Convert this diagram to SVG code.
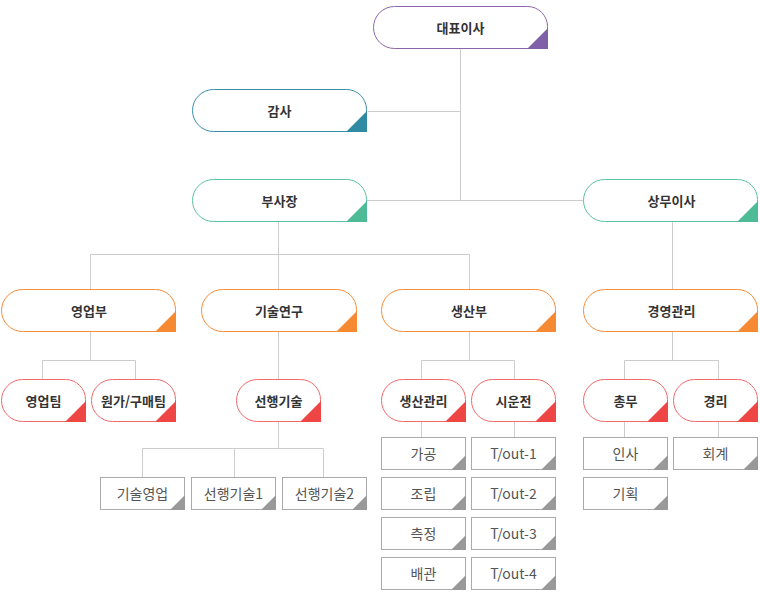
<svg xmlns="http://www.w3.org/2000/svg" xmlns:xlink="http://www.w3.org/1999/xlink" width="760" height="598" viewBox="0 0 760 598">
<style>
  .bg{fill:#ffffff}
  .ln{stroke:#cccccc;stroke-width:1;fill:none}
  .pill{fill:#ffffff;stroke-width:1}
  .t{font-family:"Noto Sans CJK KR","Liberation Sans",sans-serif;font-size:13px;font-weight:bold;fill:#333333;text-anchor:middle}
  .s{font-family:"Noto Sans CJK KR","Liberation Sans",sans-serif;font-size:14px;fill:#555555;text-anchor:middle}
  .box{fill:#ffffff;stroke:#aaaaaa;stroke-width:1}
  .gtri{fill:#999999}
  .purple .pill{stroke:#8c66ac} .purple .tri{fill:#8060a6}
  .teal .pill{stroke:#3a8fa8} .teal .tri{fill:#2f8aa3}
  .green .pill{stroke:#5cc29e} .green .tri{fill:#4dbb95}
  .orange .pill{stroke:#f68d3a} .orange .tri{fill:#f58a32}
  .red .pill{stroke:#f06a6a} .red .tri{fill:#ee4545}
</style>
<defs>
  <path id="pillL" d="M21.5,0.5 H154.5 A20,20 0 0 1 174.5,20.5 V42.5 H21.5 A21,21 0 0 1 21.5,0.5 Z"/>
  <path id="triL" d="M175,22 V43 H154 Z"/>
  <path id="pillM" d="M21.5,0.5 H135.5 A20,20 0 0 1 155.5,20.5 V42.5 H21.5 A21,21 0 0 1 21.5,0.5 Z"/>
  <path id="triM" d="M156,22 V43 H135 Z"/>
  <path id="pillS" d="M21.5,0.5 H64.5 A20,20 0 0 1 84.5,20.5 V42.5 H21.5 A21,21 0 0 1 21.5,0.5 Z"/>
  <path id="triS" d="M85,22 V43 H64 Z"/>
  <rect id="boxR" x="0.5" y="0.5" width="84" height="32"/>
  <path id="triB" d="M85,18 V33 H70 Z"/>
</defs>
<rect class="bg" x="0" y="0" width="760" height="598"/>

<g id="connectors">
  <path class="ln" d="M460.5,49 V200.5"/>
  <path class="ln" d="M367,200.5 H583"/>
  <path class="ln" d="M368,111.5 H460.5"/>
  <path class="ln" d="M278.5,222 V254.5"/>
  <path class="ln" d="M90.5,289 V254.5 H469.5 V289"/>
  <path class="ln" d="M278.5,254.5 V289"/>
  <path class="ln" d="M672.5,222 V289"/>
  <path class="ln" d="M90.5,332 V360.5"/>
  <path class="ln" d="M42.5,379 V360.5 H135.5 V379"/>
  <path class="ln" d="M278.5,332 V379"/>
  <path class="ln" d="M469.5,332 V360.5"/>
  <path class="ln" d="M421.5,379 V360.5 H514.5 V379"/>
  <path class="ln" d="M672.5,332 V360.5"/>
  <path class="ln" d="M624.5,379 V360.5 H718.5 V379"/>
  <path class="ln" d="M278.5,422 V448.5"/>
  <path class="ln" d="M142.5,477 V448.5 H323.5 V477"/>
  <path class="ln" d="M234.5,448.5 V477"/>
  <path class="ln" d="M421.5,422 V437"/>
  <path class="ln" d="M514.5,422 V437"/>
  <path class="ln" d="M624.5,422 V437"/>
  <path class="ln" d="M718.5,422 V437"/>
</g>

<g id="n-ceo" class="purple" transform="translate(373,6)">
  <use href="#pillL" class="pill"/><use href="#triL" class="tri"/>
  <text class="t" x="87.5" y="26.5">대표이사</text>
</g>
<g id="n-audit" class="teal" transform="translate(192,89)">
  <use href="#pillL" class="pill"/><use href="#triL" class="tri"/>
  <text class="t" x="87.5" y="26.5">감사</text>
</g>
<g id="n-vp" class="green" transform="translate(192,179)">
  <use href="#pillL" class="pill"/><use href="#triL" class="tri"/>
  <text class="t" x="87.5" y="26.5">부사장</text>
</g>
<g id="n-md" class="green" transform="translate(583,179)">
  <use href="#pillL" class="pill"/><use href="#triL" class="tri"/>
  <text class="t" x="88.5" y="26.5">상무이사</text>
</g>

<g id="n-sales" class="orange" transform="translate(1,289)">
  <use href="#pillL" class="pill"/><use href="#triL" class="tri"/>
  <text class="t" x="88" y="26.5">영업부</text>
</g>
<g id="n-rnd" class="orange" transform="translate(201,289)">
  <use href="#pillM" class="pill"/><use href="#triM" class="tri"/>
  <text class="t" x="78" y="26.5">기술연구</text>
</g>
<g id="n-prod" class="orange" transform="translate(381,289)">
  <use href="#pillL" class="pill"/><use href="#triL" class="tri"/>
  <text class="t" x="88" y="26.5">생산부</text>
</g>
<g id="n-mgmt" class="orange" transform="translate(583,289)">
  <use href="#pillL" class="pill"/><use href="#triL" class="tri"/>
  <text class="t" x="88.5" y="26.5">경영관리</text>
</g>

<g id="n-salesteam" class="red" transform="translate(1,379)">
  <use href="#pillS" class="pill"/><use href="#triS" class="tri"/>
  <text class="t" x="42.5" y="26.5">영업팀</text>
</g>
<g id="n-cost" class="red" transform="translate(91,379)">
  <use href="#pillS" class="pill"/><use href="#triS" class="tri"/>
  <text class="t" x="42.5" y="26.5">원가/구매팀</text>
</g>
<g id="n-adv" class="red" transform="translate(236,379)">
  <use href="#pillS" class="pill"/><use href="#triS" class="tri"/>
  <text class="t" x="42.5" y="26.5">선행기술</text>
</g>
<g id="n-pm" class="red" transform="translate(381,379)">
  <use href="#pillS" class="pill"/><use href="#triS" class="tri"/>
  <text class="t" x="42.5" y="26.5">생산관리</text>
</g>
<g id="n-trial" class="red" transform="translate(471,379)">
  <use href="#pillS" class="pill"/><use href="#triS" class="tri"/>
  <text class="t" x="42.5" y="26.5">시운전</text>
</g>
<g id="n-ga" class="red" transform="translate(583,379)">
  <use href="#pillS" class="pill"/><use href="#triS" class="tri"/>
  <text class="t" x="42.5" y="26.5">총무</text>
</g>
<g id="n-acct" class="red" transform="translate(673,379)">
  <use href="#pillS" class="pill"/><use href="#triS" class="tri"/>
  <text class="t" x="42.5" y="26.5">경리</text>
</g>

<g id="b-techsales" transform="translate(100,477)"><use href="#boxR" class="box"/><use href="#triB" class="gtri"/><text class="s" x="42.5" y="21.5">기술영업</text></g>
<g id="b-adv1" transform="translate(191,477)"><use href="#boxR" class="box"/><use href="#triB" class="gtri"/><text class="s" x="42.5" y="21.5">선행기술1</text></g>
<g id="b-adv2" transform="translate(282,477)"><use href="#boxR" class="box"/><use href="#triB" class="gtri"/><text class="s" x="42.5" y="21.5">선행기술2</text></g>

<g id="b-machining" transform="translate(381,437)"><use href="#boxR" class="box"/><use href="#triB" class="gtri"/><text class="s" x="42.5" y="21.5">가공</text></g>
<g id="b-assembly" transform="translate(381,477)"><use href="#boxR" class="box"/><use href="#triB" class="gtri"/><text class="s" x="42.5" y="21.5">조립</text></g>
<g id="b-measure" transform="translate(381,517)"><use href="#boxR" class="box"/><use href="#triB" class="gtri"/><text class="s" x="42.5" y="21.5">측정</text></g>
<g id="b-piping" transform="translate(381,557)"><use href="#boxR" class="box"/><use href="#triB" class="gtri"/><text class="s" x="42.5" y="21.5">배관</text></g>

<g id="b-tout1" transform="translate(471,437)"><use href="#boxR" class="box"/><use href="#triB" class="gtri"/><text class="s" x="42.5" y="21.5">T/out-1</text></g>
<g id="b-tout2" transform="translate(471,477)"><use href="#boxR" class="box"/><use href="#triB" class="gtri"/><text class="s" x="42.5" y="21.5">T/out-2</text></g>
<g id="b-tout3" transform="translate(471,517)"><use href="#boxR" class="box"/><use href="#triB" class="gtri"/><text class="s" x="42.5" y="21.5">T/out-3</text></g>
<g id="b-tout4" transform="translate(471,557)"><use href="#boxR" class="box"/><use href="#triB" class="gtri"/><text class="s" x="42.5" y="21.5">T/out-4</text></g>

<g id="b-hr" transform="translate(583,437)"><use href="#boxR" class="box"/><use href="#triB" class="gtri"/><text class="s" x="42.5" y="21.5">인사</text></g>
<g id="b-plan" transform="translate(583,477)"><use href="#boxR" class="box"/><use href="#triB" class="gtri"/><text class="s" x="42.5" y="21.5">기획</text></g>
<g id="b-account" transform="translate(673,437)"><use href="#boxR" class="box"/><use href="#triB" class="gtri"/><text class="s" x="42.5" y="21.5">회계</text></g>
</svg>
